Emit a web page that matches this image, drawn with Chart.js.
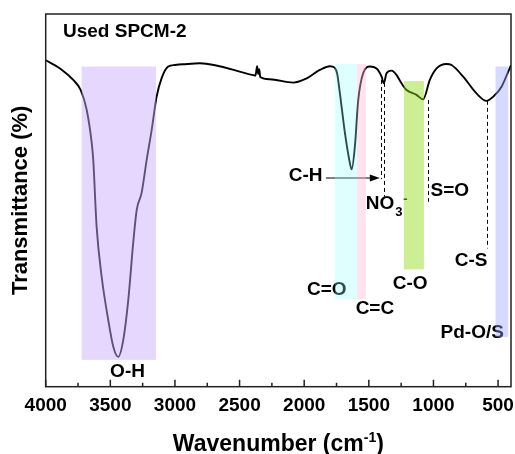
<!DOCTYPE html>
<html>
<head>
<meta charset="utf-8">
<script src="https://cdn.jsdelivr.net/npm/chart.js@4.4.0/dist/chart.umd.min.js"></script>
<style>
  html, body { margin: 0; padding: 0; background: #fff; }
  #wrap { width: 515px; height: 454px; }
</style>
</head>
<body>
<div id="wrap"><canvas id="ftirChart" width="515" height="454"></canvas></div>
<script>
'use strict'

//++++++++++++++ Spectrum data ++++++++++++++//
let wavenumbers = [4000, 3889, 3787, 3729, 3683, 3644, 3632, 3606, 3567, 3516,
  3477, 3439, 3400, 3361, 3323, 3296, 3258, 3219, 3180, 3142,
  3103, 3052, 3000, 2936, 2807, 2394, 2377, 2364, 2356, 2348,
  2340, 2265, 2085, 1981, 1879, 1801, 1765, 1745, 1724, 1685,
  1647, 1633, 1608, 1582, 1544, 1492, 1440, 1401, 1384, 1363,
  1324, 1285, 1247, 1208, 1131, 1080, 1028, 976, 899, 860,
  770, 667, 590, 538, 473, 422, 400];
let transmittance = [87.6, 85.4, 82.3, 79.6, 74.3, 65.4, 60.8, 42.9, 29.5, 17.9,
  10.7, 8.0, 12.5, 23.3, 38.6, 47.4, 52.0, 60.8, 68.9, 77.8,
  82.8, 85.9, 86.3, 86.5, 86.8, 83.6, 83.5, 86.0, 83.9, 85.2,
  83.1, 82.5, 81.6, 82.7, 85.0, 86.0, 85.6, 84.0, 78.8, 68.1,
  60.1, 58.3, 64.4, 76.9, 84.1, 85.9, 85.4, 83.2, 81.4, 84.1,
  84.8, 83.6, 81.4, 79.6, 78.3, 77.1, 82.3, 85.4, 86.6, 86.3,
  83.2, 78.7, 76.7, 77.8, 80.5, 84.5, 86.3];

let tickLabels = [4000, 3500, 3000, 2500, 2000, 1500, 1000, 500];
let minorTicks = [3750, 3250, 2750, 2250, 1750, 1250, 750];

//++++++++++++++ Shaded bands (wavenumber ranges) ++++++++++++++//
let bandFrom = [3722, 1763, 1590, 1229, 520];
let bandTo = [3147, 1590, 1523, 1074, 422];
let bandTop = [85.9, 86.6, 86.6, 82.0, 85.9];
let bandBottom = [7.2, 23.5, 23.5, 31.5, 13.3];
let bandColors = ['rgba(202,170,255,0.47)', 'rgba(150,255,255,0.3)', 'rgba(255,187,217,0.4)',
  'rgba(142,218,20,0.45)', 'rgba(153,163,255,0.4)'];

//++++++++++++++ Dashed markers ++++++++++++++//
let markerWavenumbers = [1407, 1381, 1046, 582];
let markerFrom = [82.3, 81.5, 76.9, 76.7];
let markerTo = [55.7, 51.0, 49.6, 37.1];

//++++++++++++++ Peak labels ++++++++++++++//
let peakLabels = ['O-H', 'C-H', 'C=O', 'C=C', 'C-O', 'S=O', 'C-S', 'Pd-O/S'];
let labelWavenumber = [3367, 1989, 1825, 1453, 1180, 873, 709, 700];
let labelValue = [4.0, 56.5, 26.1, 20.8, 27.7, 52.6, 33.8, 14.5];

const FONT = '"Liberation Sans", Arial, sans-serif';

function xPix(chart, w) { return chart.scales.x.getPixelForValue(w); }
function yPix(chart, v) { return chart.scales.y.getPixelForValue(v); }

//++++++++++++++ Decorations plugin ++++++++++++++//
let decorations = {
  id: 'decorations',
  afterDraw(chart) {
    let ctx = chart.ctx;
    let area = chart.chartArea;
    ctx.save();

    // frame
    ctx.strokeStyle = '#222';
    ctx.lineWidth = 1.5;
    ctx.strokeRect(area.left, area.top, area.right - area.left, area.bottom - area.top);

    // inward ticks on bottom axis
    ctx.lineWidth = 1.5;
    ctx.beginPath();
    tickLabels.forEach(t => {
      let x = xPix(chart, t);
      ctx.moveTo(x, area.bottom);
      ctx.lineTo(x, area.bottom - 7);
    });
    minorTicks.forEach(t => {
      let x = xPix(chart, t);
      ctx.moveTo(x, area.bottom);
      ctx.lineTo(x, area.bottom - 4);
    });
    ctx.stroke();

    ctx.fillStyle = '#000';

    // x title with superscript
    let cx = (area.left + area.right) / 2;
    ctx.font = 'bold 23px ' + FONT;
    let part1 = 'Wavenumber (cm';
    let part3 = ')';
    let w1 = ctx.measureText(part1).width;
    let w3 = ctx.measureText(part3).width;
    ctx.font = 'bold 14px ' + FONT;
    let w2 = ctx.measureText('-1').width;
    let startX = cx - (w1 + w2 + w3) / 2;
    let base = 451;
    ctx.textBaseline = 'alphabetic';
    ctx.textAlign = 'left';
    ctx.font = 'bold 23px ' + FONT;
    ctx.fillText(part1, startX, base);
    ctx.fillText(part3, startX + w1 + w2, base);
    ctx.font = 'bold 14px ' + FONT;
    ctx.fillText('-1', startX + w1, base - 9);

    // y title
    ctx.save();
    ctx.translate(20.7, (area.top + area.bottom) / 2);
    ctx.rotate(-Math.PI / 2);
    ctx.font = 'bold 22px ' + FONT;
    ctx.textAlign = 'center';
    ctx.textBaseline = 'middle';
    ctx.fillText('Transmittance (%)', 0, 0);
    ctx.restore();

    // sample name
    ctx.font = 'bold 19px ' + FONT;
    ctx.textAlign = 'left';
    ctx.textBaseline = 'middle';
    ctx.fillText('Used SPCM-2', xPix(chart, 3866), yPix(chart, 95.3));

    // peak labels
    ctx.textAlign = 'center';
    peakLabels.forEach((txt, i) => {
      ctx.fillText(txt, xPix(chart, labelWavenumber[i]), yPix(chart, labelValue[i]));
    });

    // NO3- label
    let nx = xPix(chart, 1523);
    let ny = yPix(chart, 49.0);
    ctx.textAlign = 'left';
    ctx.fillText('NO', nx, ny);
    let nw = ctx.measureText('NO').width;
    ctx.font = 'bold 13px ' + FONT;
    ctx.fillText('3', nx + nw + 1, ny + 8);
    ctx.fillText('-', nx + nw + 9, ny - 5);

    // dashed markers
    ctx.strokeStyle = '#000';
    ctx.lineWidth = 1;
    ctx.setLineDash([4, 3]);
    markerWavenumbers.forEach((w, i) => {
      let x = Math.round(xPix(chart, w)) + 0.5;
      ctx.beginPath();
      ctx.moveTo(x, yPix(chart, markerFrom[i]));
      ctx.lineTo(x, yPix(chart, markerTo[i]));
      ctx.stroke();
    });
    ctx.setLineDash([]);

    // arrow from C-H label
    let ay = yPix(chart, 56.0);
    let ax0 = xPix(chart, 1832);
    let ax1 = xPix(chart, 1415);
    ctx.lineWidth = 1.2;
    ctx.beginPath();
    ctx.moveTo(ax0, ay);
    ctx.lineTo(ax1 - 8, ay);
    ctx.stroke();
    ctx.beginPath();
    ctx.moveTo(ax1, ay);
    ctx.lineTo(ax1 - 10, ay - 3.5);
    ctx.lineTo(ax1 - 10, ay + 3.5);
    ctx.closePath();
    ctx.fill();

    // translucent bands over everything
    bandFrom.forEach((w, i) => {
      let x0 = xPix(chart, w);
      let x1 = xPix(chart, bandTo[i]);
      let y0 = yPix(chart, bandTop[i]);
      let y1 = yPix(chart, bandBottom[i]);
      ctx.fillStyle = bandColors[i];
      ctx.fillRect(x0, y0, x1 - x0, y1 - y0);
    });

    ctx.restore();
  }
};

//++++++++++++++ Chart ++++++++++++++//
let ctx = document.getElementById('ftirChart').getContext('2d');
let ftirChart = new Chart(ctx, {
  type: 'line',
  data: {
    datasets: [{
      data: wavenumbers.map((w, i) => ({ x: w, y: transmittance[i] })),
      borderColor: '#000',
      borderWidth: 1.9,
      pointRadius: 0,
      cubicInterpolationMode: 'monotone',
      fill: false
    }]
  },
  options: {
    responsive: false,
    animation: false,
    devicePixelRatio: 1,
    layout: { padding: { left: 45.7, top: 14, right: 4, bottom: 0 } },
    plugins: { legend: { display: false }, tooltip: { enabled: false } },
    scales: {
      x: {
        type: 'linear',
        reverse: true,
        min: 400,
        max: 4000,
        afterBuildTicks: (scale) => { scale.ticks = tickLabels.map(v => ({ value: v })); },
        afterFit: (scale) => {
          scale.height = 67.3;
          scale.paddingLeft = 0;
          scale.paddingRight = 0;
        },
        grid: { display: false, drawTicks: false },
        border: { display: false },
        ticks: {
          autoSkip: false,
          maxRotation: 0,
          padding: 8,
          color: '#000',
          font: { family: FONT, size: 19, weight: 'bold' },
          callback: (value) => String(value)
        }
      },
      y: {
        display: false,
        min: 0,
        max: 100
      }
    }
  },
  plugins: [decorations]
});
</script>
</body>
</html>
